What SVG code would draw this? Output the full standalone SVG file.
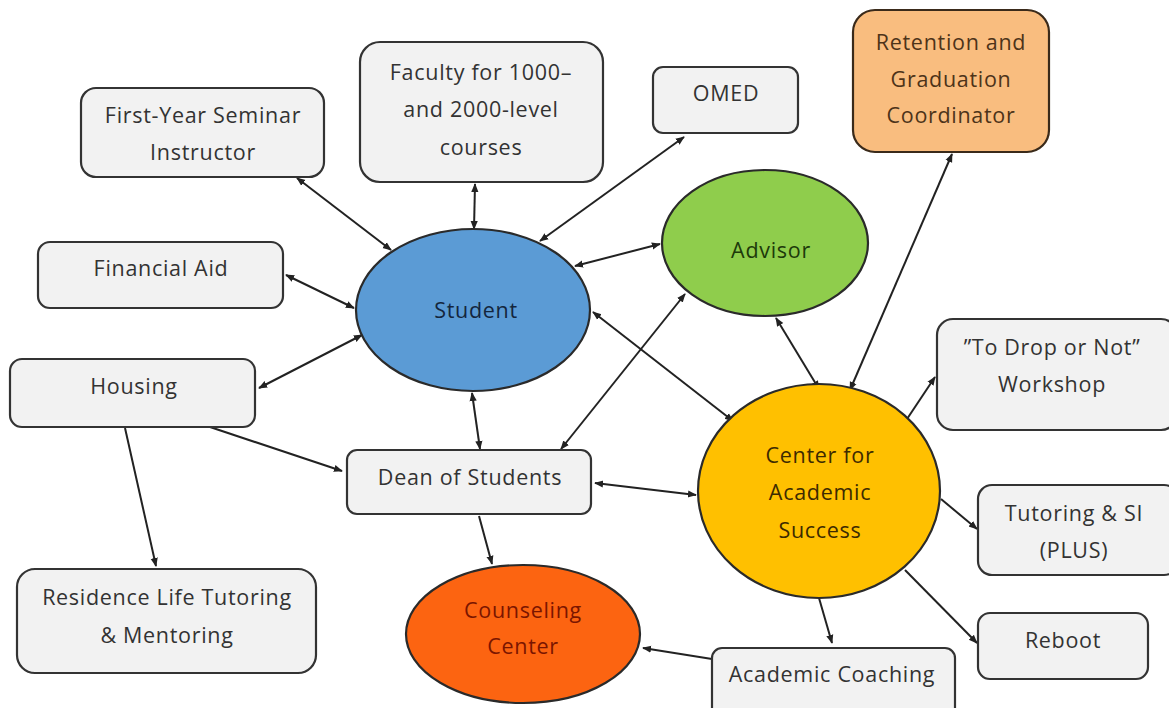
<svg xmlns="http://www.w3.org/2000/svg" width="1169" height="708" viewBox="0 0 1169 708">
<style>
.box{fill:#f2f2f2;stroke:#333;stroke-width:2.2}
.t{font-family:"Open Sans",sans-serif;font-size:21.5px;letter-spacing:0.7px;fill:#333;text-anchor:middle}
.c{stroke:#222;stroke-width:2;fill:none}
.ell{stroke:#2a2a2a;stroke-width:2.2}
</style>
<defs>
<marker id="a" viewBox="0 0 10 10" refX="9" refY="5" markerWidth="4.5" markerHeight="4.5" orient="auto-start-reverse" markerUnits="strokeWidth">
<path d="M0,1 L10,5 L0,9 z" fill="#222"/>
</marker>
</defs>
<rect width="1169" height="708" fill="#fff"/>
<g id="connectors">
<line class="c" x1="297" y1="178" x2="391" y2="250" marker-start="url(#a)" marker-end="url(#a)"/>
<line class="c" x1="475" y1="184" x2="474" y2="229" marker-start="url(#a)" marker-end="url(#a)"/>
<line class="c" x1="540" y1="241" x2="684" y2="137" marker-start="url(#a)" marker-end="url(#a)"/>
<line class="c" x1="575" y1="266" x2="660" y2="244" marker-start="url(#a)" marker-end="url(#a)"/>
<line class="c" x1="286" y1="275" x2="354" y2="308" marker-start="url(#a)" marker-end="url(#a)"/>
<line class="c" x1="259" y1="388" x2="362" y2="335" marker-start="url(#a)" marker-end="url(#a)"/>
<line class="c" x1="472" y1="393" x2="480" y2="449" marker-start="url(#a)" marker-end="url(#a)"/>
<line class="c" x1="561" y1="449" x2="685" y2="294" marker-start="url(#a)" marker-end="url(#a)"/>
<line class="c" x1="593" y1="312" x2="733" y2="421" marker-start="url(#a)" marker-end="url(#a)"/>
<line class="c" x1="776" y1="318" x2="819" y2="389" marker-start="url(#a)" marker-end="url(#a)"/>
<line class="c" x1="952" y1="154" x2="850" y2="390" marker-start="url(#a)" marker-end="url(#a)"/>
<line class="c" x1="210" y1="427" x2="342" y2="471" marker-end="url(#a)"/>
<line class="c" x1="125" y1="428" x2="156" y2="566" marker-end="url(#a)"/>
<line class="c" x1="595" y1="483" x2="696" y2="495" marker-start="url(#a)" marker-end="url(#a)"/>
<line class="c" x1="479" y1="516" x2="492" y2="564" marker-end="url(#a)"/>
<line class="c" x1="712" y1="659" x2="643" y2="648" marker-end="url(#a)"/>
<line class="c" x1="819" y1="598" x2="832" y2="643" marker-end="url(#a)"/>
<line class="c" x1="905" y1="422" x2="935" y2="377" marker-end="url(#a)"/>
<line class="c" x1="941" y1="499" x2="977" y2="529" marker-end="url(#a)"/>
<line class="c" x1="905" y1="570" x2="977" y2="643" marker-end="url(#a)"/>
</g>
<g id="fys"><rect class="box" x="81" y="88" width="243" height="89" rx="15"/><text class="t" x="203" y="123">First-Year Seminar</text><text class="t" x="203" y="160">Instructor</text></g>
<g id="faculty"><rect class="box" x="360" y="42" width="243" height="140" rx="20"/><text class="t" x="481" y="80">Faculty for 1000–</text><text class="t" x="481" y="117">and 2000-level</text><text class="t" x="481" y="155">courses</text></g>
<g id="omed"><rect class="box" x="653" y="67" width="145" height="66" rx="10"/><text class="t" x="726" y="101">OMED</text></g>
<g id="retention"><rect x="853" y="10" width="196" height="142" rx="22" fill="#f9bd7f" stroke="#3a2a1a" stroke-width="2.2"/><text class="t" x="951" y="50" style="fill:#4d3319">Retention and</text><text class="t" x="951" y="87" style="fill:#4d3319">Graduation</text><text class="t" x="951" y="123" style="fill:#4d3319">Coordinator</text></g>
<g id="finaid"><rect class="box" x="38" y="242" width="245" height="66" rx="12"/><text class="t" x="161" y="276">Financial Aid</text></g>
<g id="student"><ellipse class="ell" cx="473" cy="310" rx="117" ry="81" fill="#5b9bd5"/><text class="t" x="476" y="318" style="fill:#14263d">Student</text></g>
<g id="advisor"><ellipse class="ell" cx="765" cy="243" rx="103" ry="73" fill="#8fcd4c"/><text class="t" x="771" y="258" style="fill:#1d3a0a">Advisor</text></g>
<g id="housing"><rect class="box" x="10" y="359" width="245" height="68" rx="12"/><text class="t" x="134" y="394">Housing</text></g>
<g id="dean"><rect class="box" x="347" y="450" width="244" height="64" rx="10"/><text class="t" x="470" y="485">Dean of Students</text></g>
<g id="residence"><rect class="box" x="17" y="569" width="299" height="104" rx="18"/><text class="t" x="167" y="605">Residence Life Tutoring</text><text class="t" x="167" y="643">&amp; Mentoring</text></g>
<g id="counseling"><ellipse class="ell" cx="523" cy="634" rx="117" ry="69" fill="#fc6411"/><text class="t" x="523" y="618" style="fill:#7a1500">Counseling</text><text class="t" x="523" y="654" style="fill:#7a1500">Center</text></g>
<g id="cas"><ellipse class="ell" cx="819" cy="491" rx="121" ry="107" fill="#ffc000"/><text class="t" x="820" y="463" style="fill:#3d2a00">Center for</text><text class="t" x="820" y="500" style="fill:#3d2a00">Academic</text><text class="t" x="820" y="538" style="fill:#3d2a00">Success</text></g>
<g id="coaching"><rect class="box" x="712" y="648" width="243" height="70" rx="10"/><text class="t" x="832" y="682">Academic Coaching</text></g>
<g id="workshop"><rect class="box" x="937" y="319" width="240" height="111" rx="16"/><text class="t" x="1052" y="355">”To Drop or Not”</text><text class="t" x="1052" y="392">Workshop</text></g>
<g id="tutoring"><rect class="box" x="978" y="485" width="200" height="90" rx="14"/><text class="t" x="1074" y="521">Tutoring &amp; SI</text><text class="t" x="1074" y="558">(PLUS)</text></g>
<g id="reboot"><rect class="box" x="978" y="613" width="170" height="66" rx="12"/><text class="t" x="1063" y="648">Reboot</text></g>
</svg>
